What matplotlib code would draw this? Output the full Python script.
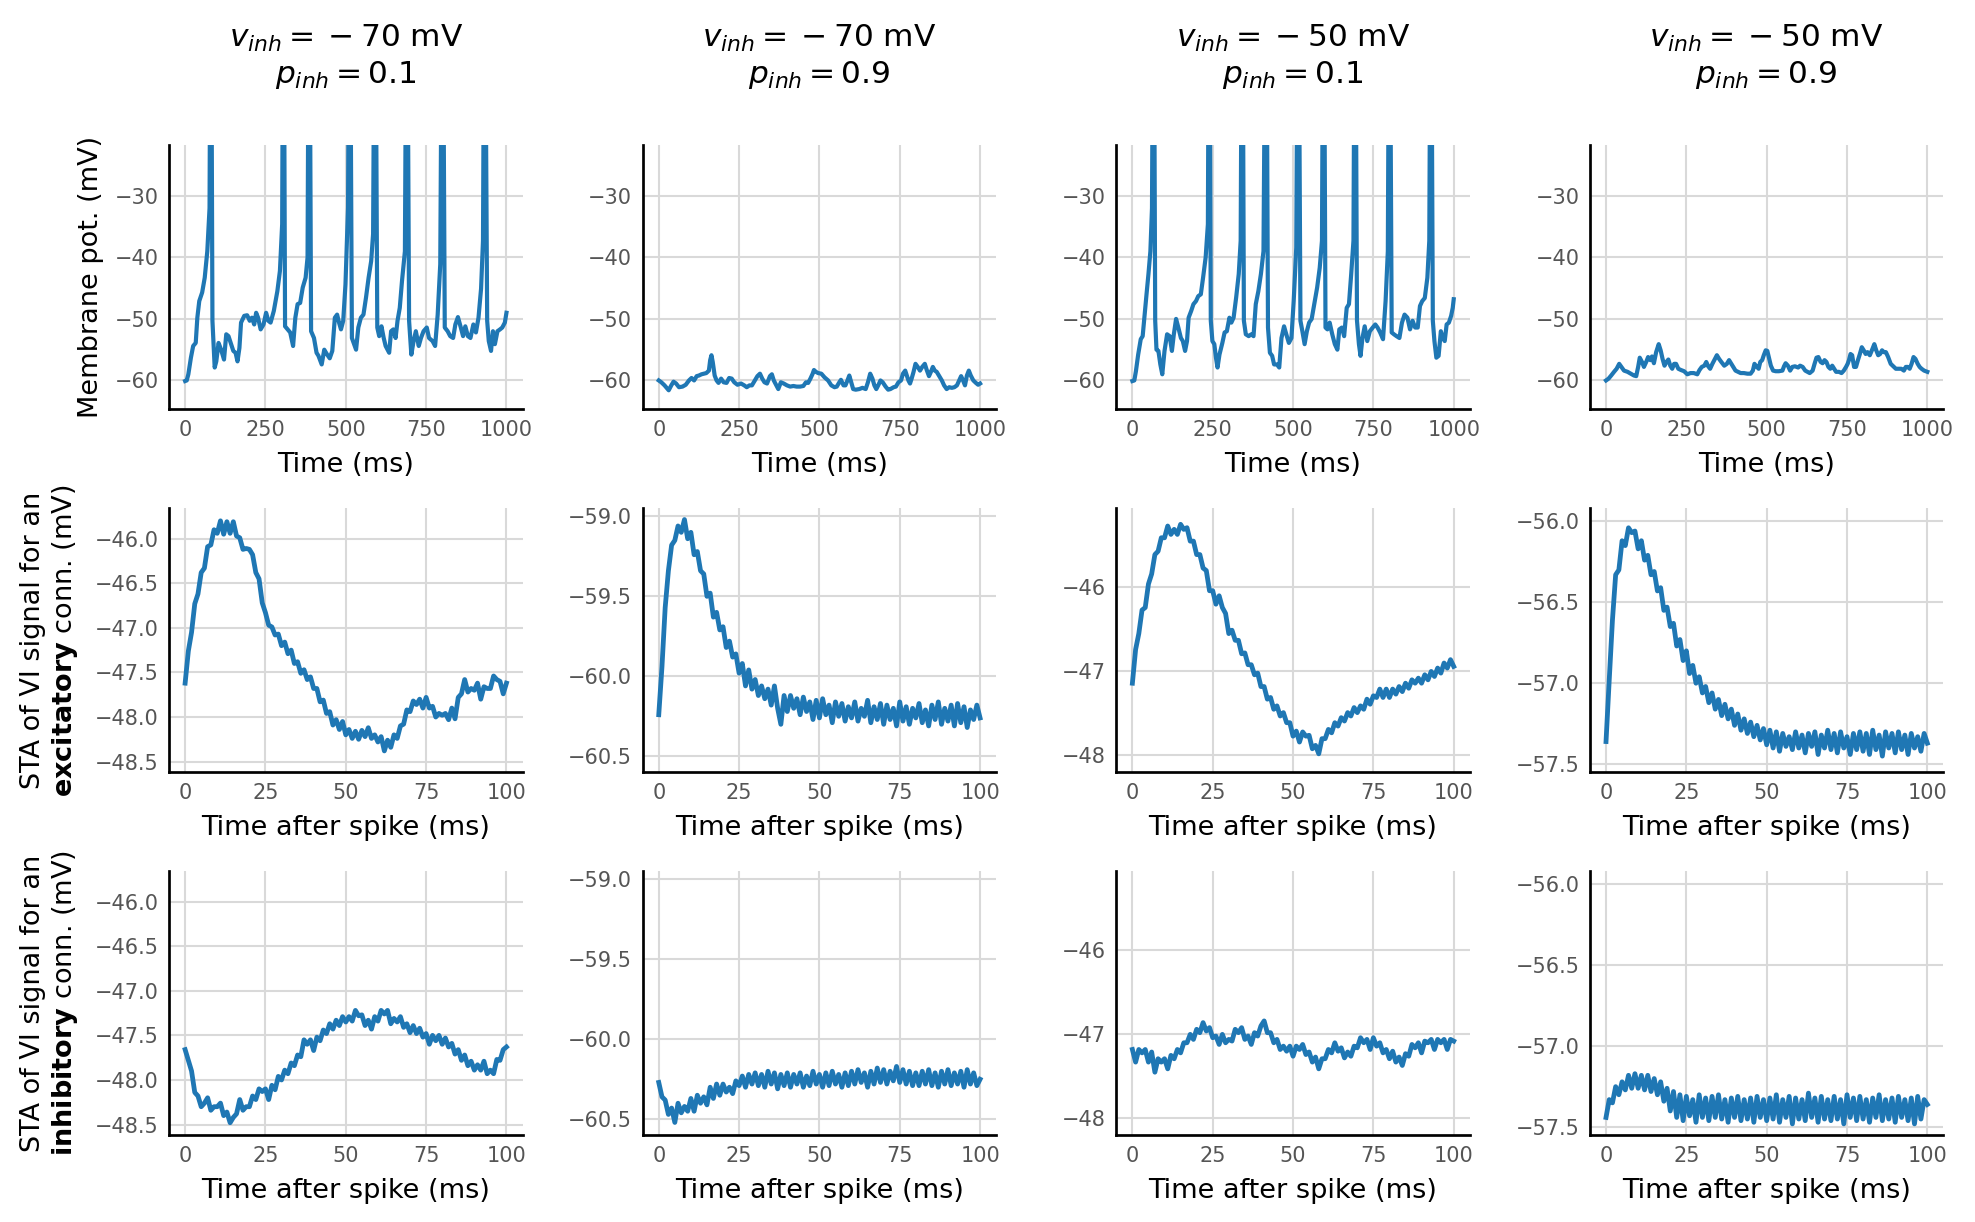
import matplotlib
matplotlib.use("Agg")
import matplotlib.pyplot as plt
from matplotlib.ticker import FuncFormatter
import numpy as np

# column settings: (v_inh, p_inh)
v_inh = [-70, -70, -50, -50]
p_inh = [0.1, 0.9, 0.1, 0.9]

# membrane potential traces, (time ms, mV); spikes go off the top
vm_m70_01 = [(0, -60.1), (5, -60.0), (10, -59.0), (18, -56.3), (25, -54.4), (33, -53.9), (38, -49.8),
             (44, -47.1), (53, -45.7), (61, -43.3), (69, -39.0), (76, -32.0), (80, 20), (85, -50.3),
             (92, -57.9), (97, -56.9), (104, -53.9), (112, -55.0), (121, -56.6), (128, -52.5),
             (135, -52.8), (143, -54.1), (150, -55.2), (157, -55.5), (163, -56.9), (169, -54.7),
             (174, -50.6), (184, -49.5), (193, -49.4), (201, -50.3), (208, -49.8), (215, -50.9),
             (221, -49.0), (227, -49.8), (235, -51.7), (244, -50.9), (252, -49.0), (259, -50.3),
             (266, -50.6), (276, -48.7), (287, -45.5), (295, -42.2), (302, -34.6), (306, 20),
             (311, -51.2), (319, -51.7), (327, -52.2), (336, -54.4), (343, -49.8), (350, -47.6),
             (358, -47.4), (366, -44.9), (375, -43.3), (381, -40.0), (386, 20), (392, -52.0),
             (401, -53.1), (409, -55.5), (415, -56.0), (425, -57.4), (433, -55.0), (442, -55.8),
             (450, -56.4), (458, -55.2), (466, -49.8), (473, -49.3), (479, -50.6), (485, -51.7),
             (492, -50.3), (499, -44.4), (507, -31.9), (512, 20), (519, -53.1), (526, -54.1),
             (532, -55.0), (539, -51.4), (547, -49.8), (555, -49.3), (563, -46.5), (571, -43.3),
             (579, -40.6), (585, -36.2), (591, 20), (598, -51.4), (604, -52.8), (611, -51.2),
             (618, -53.1), (624, -54.4), (635, -55.5), (641, -52.0), (648, -51.7), (655, -53.1),
             (661, -50.3), (668, -48.2), (675, -43.8), (684, -39.0), (690, 20), (697, -50.3),
             (704, -55.8), (711, -53.6), (718, -52.0), (727, -54.4), (734, -53.1), (742, -52.0),
             (752, -51.4), (759, -53.1), (770, -53.6), (778, -54.4), (786, -49.3), (794, -41.1),
             (801, 20), (808, -51.4), (817, -52.0), (825, -52.8), (834, -53.1), (841, -50.9),
             (849, -49.7), (858, -51.4), (865, -52.8), (872, -51.2), (880, -52.8), (888, -53.1),
             (897, -50.9), (905, -52.2), (913, -49.8), (921, -45.1), (927, -37.3), (932, 20),
             (940, -50.3), (945, -53.6), (952, -55.2), (958, -52.0), (964, -54.1), (972, -52.0),
             (980, -51.7), (987, -51.4), (995, -50.6), (1000, -49.0)]

vm_m70_09 = [(0, -60.0), (8, -60.3), (18, -60.8), (31, -61.6), (39, -60.8), (46, -60.2), (54, -60.5),
             (63, -61.1), (74, -61.0), (84, -60.7), (94, -60.0), (102, -59.6), (110, -60.0),
             (118, -59.3), (125, -59.2), (133, -59.0), (141, -58.9), (148, -58.8), (156, -58.4),
             (160, -56.7), (164, -55.9), (168, -57.0), (174, -59.2), (180, -60.0), (186, -60.4),
             (194, -59.7), (202, -60.3), (211, -60.4), (219, -59.6), (227, -59.7), (235, -60.3),
             (245, -60.7), (256, -60.5), (266, -60.8), (274, -61.1), (282, -60.8), (290, -60.8),
             (299, -60.0), (307, -59.3), (315, -58.9), (322, -59.7), (329, -60.3), (337, -60.5),
             (346, -59.3), (352, -59.0), (358, -60.0), (366, -60.8), (372, -61.4), (380, -60.3),
             (389, -60.5), (399, -60.8), (409, -61.0), (419, -60.9), (429, -61.0), (440, -61.0),
             (450, -60.9), (458, -60.3), (465, -60.4), (472, -59.7), (479, -58.9), (483, -58.3),
             (489, -58.6), (496, -58.8), (506, -58.9), (516, -59.5), (527, -60.0), (537, -60.8),
             (547, -61.1), (554, -61.0), (562, -60.3), (567, -59.9), (575, -60.8), (581, -60.8),
             (588, -59.9), (593, -59.2), (599, -60.3), (605, -61.4), (613, -61.5), (624, -61.4),
             (634, -61.2), (644, -61.4), (651, -60.3), (658, -58.9), (665, -59.7), (671, -60.8),
             (677, -61.4), (683, -60.8), (690, -60.0), (697, -60.3), (706, -61.0), (714, -61.5),
             (721, -61.4), (731, -61.1), (738, -61.0), (746, -60.3), (754, -60.0), (760, -58.9),
             (767, -58.4), (772, -59.2), (777, -60.0), (782, -60.5), (787, -59.7), (793, -58.6),
             (799, -57.3), (806, -57.8), (813, -58.4), (820, -57.8), (828, -57.3), (834, -58.3),
             (841, -59.3), (847, -58.6), (853, -57.8), (859, -58.4), (865, -58.6), (872, -59.2),
             (881, -60.0), (888, -60.8), (896, -61.4), (904, -61.1), (912, -61.2), (920, -61.1),
             (928, -60.8), (935, -60.0), (941, -59.3), (947, -60.0), (953, -60.8), (959, -59.2),
             (965, -58.4), (971, -59.2), (979, -60.0), (987, -60.4), (994, -60.7), (1000, -60.5)]

vm_m50_01 = [(0, -60.1), (6, -60.0), (11, -58.5), (18, -55.8), (26, -53.3), (32, -52.8), (38, -49.3),
             (44, -46.0), (50, -42.7), (56, -39.0), (61, -32.0), (66, 20), (71, -50.3), (75, -55.0),
             (81, -55.2), (87, -57.4), (93, -59.0), (100, -55.2), (108, -52.5), (116, -52.8),
             (123, -55.2), (129, -52.5), (136, -50.0), (143, -51.4), (151, -53.1), (157, -53.6),
             (164, -55.2), (170, -53.6), (175, -49.8), (183, -48.7), (190, -47.6), (198, -47.1),
             (205, -46.3), (213, -46.0), (220, -43.3), (228, -40.0), (235, -34.6), (239, 20),
             (244, -50.3), (249, -53.6), (255, -54.1), (260, -56.3), (265, -57.9), (271, -55.8),
             (280, -53.9), (287, -52.2), (294, -52.0), (302, -49.8), (308, -50.6), (315, -49.8),
             (323, -46.5), (331, -42.7), (337, -37.3), (342, 20), (347, -50.3), (353, -52.5),
             (362, -52.8), (370, -52.5), (377, -52.8), (384, -47.6), (392, -45.5), (400, -42.7),
             (408, -39.0), (416, 20), (422, -51.4), (428, -55.5), (435, -56.0), (441, -57.4),
             (450, -57.4), (457, -57.9), (464, -53.1), (472, -51.2), (479, -52.5), (487, -53.9),
             (495, -53.1), (502, -47.1), (510, -38.4), (516, 20), (523, -50.3), (529, -52.0),
             (536, -54.1), (543, -52.0), (550, -50.6), (558, -50.0), (566, -47.6), (575, -44.9),
             (583, -41.7), (590, -37.3), (595, 20), (601, -51.4), (607, -51.7), (614, -50.6),
             (622, -52.5), (630, -54.1), (638, -55.0), (644, -51.7), (652, -51.4), (659, -52.8),
             (667, -48.2), (674, -47.6), (681, -42.7), (688, -37.3), (693, 20), (699, -50.3),
             (705, -54.1), (710, -56.0), (716, -53.1), (723, -51.2), (731, -53.6), (739, -52.0),
             (748, -51.4), (756, -50.9), (763, -51.4), (771, -52.2), (780, -53.3), (788, -47.1),
             (795, -39.0), (800, 20), (807, -52.2), (814, -52.5), (822, -52.8), (831, -53.1),
             (839, -50.6), (847, -49.3), (856, -49.8), (864, -51.7), (872, -50.3), (880, -51.4),
             (888, -51.4), (895, -47.9), (902, -47.1), (910, -46.6), (918, -43.3), (924, -37.3),
             (929, 20), (935, -50.3), (940, -53.6), (946, -56.3), (953, -56.0), (960, -52.0),
             (966, -53.1), (972, -53.6), (978, -50.9), (985, -50.6), (992, -49.5), (997, -48.2),
             (1000, -46.8)]

vm_m50_09 = [(0, -60.0), (8, -59.7), (16, -59.2), (25, -58.6), (33, -58.1), (41, -57.3), (48, -57.8),
             (56, -58.4), (67, -58.6), (77, -58.9), (87, -59.2), (94, -59.3), (100, -57.8),
             (105, -56.3), (112, -57.0), (118, -57.8), (125, -57.0), (131, -56.2), (138, -56.7),
             (143, -56.1), (149, -57.2), (156, -55.4), (164, -54.1), (170, -55.1), (176, -56.5),
             (182, -57.6), (188, -57.0), (194, -56.6), (200, -57.6), (206, -58.1), (212, -57.3),
             (218, -57.3), (225, -58.1), (233, -58.3), (243, -58.5), (253, -59.0), (263, -58.8),
             (273, -58.8), (284, -59.0), (291, -58.3), (298, -57.8), (306, -57.6), (312, -57.0),
             (318, -57.7), (324, -58.1), (331, -57.3), (337, -56.7), (345, -55.9), (352, -56.5),
             (359, -57.0), (368, -57.6), (376, -57.3), (383, -56.7), (390, -57.3), (396, -57.8),
             (403, -58.4), (411, -58.6), (419, -58.8), (429, -58.8), (440, -58.9), (450, -58.9),
             (457, -58.4), (462, -57.3), (468, -57.7), (475, -58.1), (480, -57.0), (486, -56.7),
             (491, -55.9), (497, -55.1), (502, -55.2), (508, -56.5), (513, -57.6), (520, -58.4),
             (528, -58.5), (538, -58.5), (549, -58.4), (554, -57.7), (559, -57.2), (566, -57.6),
             (573, -58.4), (580, -57.8), (588, -57.7), (598, -57.9), (604, -57.6), (612, -57.8),
             (620, -58.4), (627, -58.6), (634, -58.8), (643, -58.4), (649, -57.3), (655, -56.3),
             (661, -56.2), (668, -57.0), (674, -57.2), (680, -56.7), (686, -57.0), (692, -57.8),
             (698, -58.1), (704, -57.6), (710, -58.1), (716, -58.6), (725, -58.6), (733, -58.8),
             (740, -58.4), (747, -57.8), (752, -57.3), (756, -56.7), (761, -55.7), (766, -55.9),
             (772, -57.8), (778, -57.8), (784, -56.7), (790, -55.7), (796, -54.6), (802, -55.1),
             (808, -55.7), (814, -55.4), (821, -55.9), (829, -54.9), (835, -54.1), (841, -55.1),
             (847, -55.9), (853, -55.7), (859, -55.1), (865, -55.4), (871, -55.4), (878, -56.2),
             (886, -57.3), (894, -57.7), (902, -58.1), (910, -58.1), (919, -58.1), (927, -58.4),
             (933, -57.8), (939, -57.8), (945, -58.1), (951, -57.3), (957, -56.2), (963, -56.5),
             (970, -57.3), (976, -57.8), (982, -58.1), (990, -58.4), (1000, -58.6)]

# spike-triggered averages, one value per ms from 0 to 100 ms after the spike
sta_time = np.arange(0, 101)

sta_exc_m70_01 = [-47.62, -47.26, -47.05, -46.73, -46.62, -46.38, -46.33, -46.09, -46.07, -45.90,
                  -45.94, -45.80, -45.95, -45.81, -45.94, -45.81, -45.97, -45.99, -46.12, -46.11,
                  -46.12, -46.18, -46.38, -46.45, -46.72, -46.83, -46.97, -46.99, -47.08, -47.07,
                  -47.20, -47.16, -47.29, -47.25, -47.40, -47.38, -47.51, -47.47, -47.58, -47.55,
                  -47.68, -47.68, -47.83, -47.81, -47.96, -47.94, -48.09, -48.03, -48.14, -48.05,
                  -48.20, -48.14, -48.24, -48.16, -48.25, -48.15, -48.22, -48.12, -48.24, -48.20,
                  -48.28, -48.22, -48.38, -48.26, -48.34, -48.20, -48.24, -48.10, -48.08, -47.92,
                  -47.94, -47.82, -47.86, -47.80, -47.90, -47.78, -47.90, -47.88, -48.00, -47.96,
                  -47.98, -47.96, -48.03, -47.90, -48.02, -47.78, -47.74, -47.58, -47.72, -47.68,
                  -47.70, -47.62, -47.80, -47.66, -47.68, -47.68, -47.54, -47.58, -47.60, -47.74,
                  -47.62]

sta_inh_m70_01 = [-47.66, -47.78, -47.90, -48.14, -48.18, -48.30, -48.26, -48.20, -48.34, -48.30,
                  -48.30, -48.26, -48.40, -48.36, -48.48, -48.42, -48.38, -48.22, -48.34, -48.30,
                  -48.30, -48.18, -48.22, -48.10, -48.13, -48.10, -48.22, -48.06, -48.11, -47.96,
                  -48.00, -47.89, -47.93, -47.81, -47.84, -47.72, -47.74, -47.55, -47.60, -47.55,
                  -47.67, -47.52, -47.56, -47.44, -47.48, -47.37, -47.43, -47.33, -47.39, -47.29,
                  -47.35, -47.29, -47.34, -47.22, -47.28, -47.27, -47.39, -47.33, -47.43, -47.29,
                  -47.34, -47.22, -47.26, -47.22, -47.37, -47.31, -47.35, -47.29, -47.41, -47.37,
                  -47.47, -47.39, -47.48, -47.42, -47.52, -47.48, -47.60, -47.50, -47.56, -47.50,
                  -47.60, -47.53, -47.63, -47.59, -47.71, -47.66, -47.78, -47.72, -47.84, -47.79,
                  -47.89, -47.83, -47.89, -47.79, -47.93, -47.89, -47.93, -47.77, -47.78, -47.66,
                  -47.63]

sta_exc_m70_09 = [-60.24, -59.94, -59.57, -59.34, -59.18, -59.15, -59.06, -59.10, -59.02, -59.14,
                  -59.10, -59.24, -59.22, -59.34, -59.36, -59.50, -59.48, -59.63, -59.60, -59.71,
                  -59.69, -59.82, -59.78, -59.88, -59.86, -59.98, -59.92, -60.06, -59.96, -60.08,
                  -60.02, -60.12, -60.06, -60.14, -60.08, -60.18, -60.06, -60.20, -60.30, -60.12,
                  -60.22, -60.12, -60.20, -60.14, -60.24, -60.13, -60.22, -60.16, -60.27, -60.15,
                  -60.26, -60.14, -60.24, -60.18, -60.29, -60.16, -60.25, -60.17, -60.28, -60.19,
                  -60.26, -60.16, -60.28, -60.20, -60.25, -60.15, -60.29, -60.19, -60.27, -60.17,
                  -60.30, -60.18, -60.27, -60.20, -60.31, -60.16, -60.28, -60.19, -60.30, -60.20,
                  -60.26, -60.17, -60.29, -60.21, -60.31, -60.18, -60.27, -60.16, -60.30, -60.20,
                  -60.28, -60.18, -60.31, -60.17, -60.29, -60.19, -60.32, -60.21, -60.27, -60.18,
                  -60.26]

sta_inh_m70_09 = [-60.27, -60.36, -60.38, -60.47, -60.43, -60.52, -60.40, -60.46, -60.42, -60.45,
                  -60.37, -60.45, -60.35, -60.40, -60.36, -60.41, -60.30, -60.37, -60.28, -60.35,
                  -60.28, -60.33, -60.30, -60.34, -60.26, -60.29, -60.23, -60.30, -60.22, -60.28,
                  -60.21, -60.29, -60.22, -60.30, -60.20, -60.28, -60.21, -60.31, -60.22, -60.29,
                  -60.21, -60.30, -60.22, -60.28, -60.21, -60.30, -60.23, -60.29, -60.20, -60.28,
                  -60.22, -60.30, -60.21, -60.29, -60.20, -60.28, -60.22, -60.30, -60.21, -60.29,
                  -60.20, -60.28, -60.19, -60.27, -60.21, -60.30, -60.20, -60.28, -60.18, -60.27,
                  -60.19, -60.28, -60.20, -60.26, -60.17, -60.27, -60.19, -60.28, -60.20, -60.29,
                  -60.21, -60.29, -60.20, -60.28, -60.19, -60.29, -60.21, -60.30, -60.20, -60.28,
                  -60.19, -60.29, -60.21, -60.28, -60.20, -60.30, -60.19, -60.28, -60.21, -60.29,
                  -60.25]

sta_exc_m50_01 = [-47.14, -46.74, -46.55, -46.27, -46.24, -45.96, -45.84, -45.61, -45.57, -45.41,
                  -45.41, -45.27, -45.37, -45.31, -45.37, -45.25, -45.31, -45.29, -45.45, -45.45,
                  -45.61, -45.61, -45.77, -45.80, -46.04, -46.04, -46.20, -46.10, -46.24, -46.31,
                  -46.55, -46.51, -46.63, -46.63, -46.79, -46.78, -46.92, -46.92, -47.04, -47.02,
                  -47.18, -47.18, -47.33, -47.31, -47.45, -47.41, -47.53, -47.49, -47.61, -47.61,
                  -47.77, -47.71, -47.84, -47.72, -47.77, -47.76, -47.92, -47.88, -47.98, -47.80,
                  -47.80, -47.69, -47.73, -47.61, -47.65, -47.55, -47.59, -47.49, -47.53, -47.43,
                  -47.49, -47.41, -47.45, -47.33, -47.39, -47.29, -47.31, -47.21, -47.31, -47.21,
                  -47.31, -47.21, -47.27, -47.18, -47.24, -47.14, -47.20, -47.10, -47.14, -47.08,
                  -47.14, -47.04, -47.10, -47.00, -47.06, -46.96, -47.02, -46.90, -46.96, -46.86,
                  -46.94]

sta_inh_m50_01 = [-47.18, -47.33, -47.18, -47.22, -47.18, -47.33, -47.21, -47.45, -47.29, -47.33,
                  -47.29, -47.41, -47.25, -47.29, -47.18, -47.22, -47.10, -47.10, -47.00, -47.06,
                  -46.94, -46.98, -46.86, -46.96, -46.92, -47.04, -47.02, -47.12, -47.00, -47.10,
                  -47.06, -47.08, -46.94, -46.98, -46.92, -47.06, -47.02, -47.12, -46.98, -47.02,
                  -46.90, -46.84, -46.98, -46.98, -47.10, -47.06, -47.18, -47.14, -47.20, -47.14,
                  -47.26, -47.14, -47.18, -47.12, -47.24, -47.21, -47.33, -47.27, -47.41, -47.29,
                  -47.29, -47.18, -47.22, -47.10, -47.20, -47.16, -47.28, -47.21, -47.26, -47.14,
                  -47.16, -47.04, -47.10, -47.06, -47.18, -47.04, -47.14, -47.10, -47.22, -47.18,
                  -47.29, -47.20, -47.33, -47.27, -47.37, -47.23, -47.26, -47.12, -47.16, -47.10,
                  -47.22, -47.08, -47.10, -47.06, -47.18, -47.06, -47.10, -47.06, -47.18, -47.06,
                  -47.08]

sta_exc_m50_09 = [-57.36, -56.98, -56.61, -56.33, -56.30, -56.12, -56.15, -56.04, -56.07, -56.06,
                  -56.17, -56.12, -56.24, -56.21, -56.33, -56.31, -56.43, -56.41, -56.55, -56.53,
                  -56.65, -56.63, -56.77, -56.73, -56.86, -56.80, -56.94, -56.89, -57.00, -56.96,
                  -57.06, -57.02, -57.12, -57.06, -57.16, -57.10, -57.20, -57.13, -57.22, -57.16,
                  -57.26, -57.19, -57.29, -57.22, -57.31, -57.24, -57.33, -57.26, -57.35, -57.28,
                  -57.38, -57.29, -57.40, -57.30, -57.42, -57.31, -57.39, -57.33, -57.41, -57.30,
                  -57.40, -57.32, -57.43, -57.31, -57.39, -57.30, -57.44, -57.32, -57.40, -57.29,
                  -57.41, -57.31, -57.43, -57.30, -57.40, -57.33, -57.44, -57.31, -57.41, -57.30,
                  -57.42, -57.31, -57.44, -57.29, -57.41, -57.32, -57.45, -57.30, -57.40, -57.31,
                  -57.43, -57.30, -57.41, -57.32, -57.44, -57.31, -57.40, -57.33, -57.42, -57.31,
                  -57.37]

sta_inh_m50_09 = [-57.44, -57.33, -57.35, -57.25, -57.30, -57.22, -57.27, -57.18, -57.26, -57.17,
                  -57.26, -57.18, -57.27, -57.18, -57.28, -57.20, -57.30, -57.22, -57.34, -57.26,
                  -57.40, -57.28, -57.44, -57.30, -57.46, -57.31, -57.43, -57.33, -57.47, -57.30,
                  -57.44, -57.32, -57.46, -57.31, -57.44, -57.30, -57.45, -57.33, -57.47, -57.32,
                  -57.44, -57.31, -57.46, -57.33, -57.45, -57.32, -57.47, -57.31, -57.44, -57.33,
                  -57.46, -57.32, -57.45, -57.30, -57.47, -57.33, -57.44, -57.31, -57.48, -57.32,
                  -57.45, -57.33, -57.46, -57.29, -57.44, -57.32, -57.47, -57.31, -57.45, -57.33,
                  -57.46, -57.31, -57.45, -57.33, -57.48, -57.30, -57.44, -57.32, -57.46, -57.31,
                  -57.45, -57.33, -57.47, -57.32, -57.44, -57.30, -57.46, -57.33, -57.45, -57.32,
                  -57.47, -57.31, -57.44, -57.33, -57.46, -57.32, -57.48, -57.31, -57.45, -57.33,
                  -57.36]

vm_traces = [vm_m70_01, vm_m70_09, vm_m50_01, vm_m50_09]
sta_exc = [sta_exc_m70_01, sta_exc_m70_09, sta_exc_m50_01, sta_exc_m50_09]
sta_inh = [sta_inh_m70_01, sta_inh_m70_09, sta_inh_m50_01, sta_inh_m50_09]

# y ranges and ticks of the STA rows per column (shared by the exc and inh rows)
sta_ylims = [(-48.62, -45.66), (-60.6, -58.95), (-48.2, -45.06), (-57.55, -55.92)]
sta_yticks = [[-46.0, -46.5, -47.0, -47.5, -48.0, -48.5], [-59.0, -59.5, -60.0, -60.5],
              [-46, -47, -48], [-56.0, -56.5, -57.0, -57.5]]
sta_ydecimals = [1, 1, 0, 1]

BLUE = "#1f77b4"


def minus_fmt(decimals):
    return FuncFormatter(lambda x, pos: f"{x:.{decimals}f}".replace("-", "\u2212"))


def style_axis(ax):
    for side in ["top", "right"]:
        ax.spines[side].set_visible(False)
    for side in ["left", "bottom"]:
        ax.spines[side].set_color("black")
        ax.spines[side].set_linewidth(1.3)
    ax.grid(True, color="#d9d9d9", linewidth=1.0)
    ax.set_axisbelow(True)
    ax.tick_params(length=0, labelsize=10, labelcolor="#555555", pad=5)


fig, axes = plt.subplots(3, 4, figsize=(13.1667, 8.1467), dpi=150)
fig.subplots_adjust(left=0.0856, right=0.984, top=0.881, bottom=0.071, wspace=0.34, hspace=0.375)

for c in range(4):
    ax = axes[0, c]
    t = [p[0] for p in vm_traces[c]]
    v = [p[1] for p in vm_traces[c]]
    ax.plot(t, v, color=BLUE, linewidth=2)
    ax.set_ylim(-64.7, -21.8)
    ax.set_xlabel("Time (ms)", fontsize=13, labelpad=6)
    ax.set_title(r"$v_{inh} =\:-\:%d$ mV" % abs(v_inh[c]) + "\n" + r"$p_{inh} = %.1f$" % p_inh[c],
                 fontsize=15, pad=30)
    style_axis(ax)

    for r, sta in [(1, sta_exc[c]), (2, sta_inh[c])]:
        ax = axes[r, c]
        ax.plot(sta_time, sta, color=BLUE, linewidth=2.3)
        ax.set_ylim(*sta_ylims[c])
        ax.set_yticks(sta_yticks[c])
        ax.yaxis.set_major_formatter(minus_fmt(sta_ydecimals[c]))
        ax.set_xlabel("Time after spike (ms)", fontsize=13, labelpad=6)
        style_axis(ax)

axes[0, 0].set_ylabel("Membrane pot. (mV)", fontsize=13, labelpad=5)
axes[1, 0].set_ylabel("STA of VI signal for an\n" + r"$\bf{excitatory}$" + " conn. (mV)",
                      fontsize=13, labelpad=7)
axes[2, 0].set_ylabel("STA of VI signal for an\n" + r"$\bf{inhibitory}$" + " conn. (mV)",
                      fontsize=13, labelpad=7)

fig.savefig("out.png", dpi=150)
